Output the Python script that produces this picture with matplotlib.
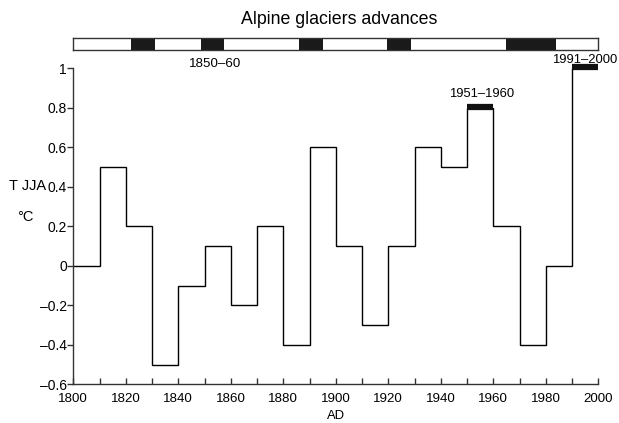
import matplotlib
matplotlib.use("Agg")
import matplotlib.pyplot as plt
import numpy as np

plt.rcParams['font.family'] = ['Liberation Sans', 'DejaVu Sans']

# Decadal summer temperature anomalies
decade_edges = [1800, 1810, 1820, 1830, 1840, 1850, 1860, 1870, 1880, 1890, 1900,
                1910, 1920, 1930, 1940, 1950, 1960, 1970, 1980, 1990, 2000]
temps = [0, 0.5, 0.2, -0.5, -0.1, 0.1, -0.2, 0.2, -0.4, 0.6,
         0.1, -0.3, 0.1, 0.6, 0.5, 0.8, 0.2, -0.4, 0, 1.0]

# Glacier advance periods (start, end)
adv_start = [1822, 1848.5, 1886, 1919.5, 1965]
adv_end = [1831, 1857.5, 1895, 1928.5, 1984]

# Highlighted decades
hl_start = [1950, 1990]
hl_end = [1960, 2000]
hl_val = [0.8, 1.0]
hl_labels = ['1951\u20131960', '1991\u20132000']
hl_label_x = [1955.5, 1994.8]
hl_label_dy = [0.07, 0.042]

yticks = [-0.6, -0.4, -0.2, 0, 0.2, 0.4, 0.6, 0.8, 1]
ytick_labels = ['\u20130.6', '\u20130.4', '\u20130.2', '0', '0.2', '0.4', '0.6', '0.8', '1']
xticks_major = list(range(1800, 2001, 20))
xticks_minor = list(range(1810, 2000, 20))

W, H = 619, 423
fig = plt.figure(figsize=(W / 100, H / 100), dpi=100)

ax_l, ax_r, ax_t, ax_b = 73.3, 598.3, 68.3, 384.3
ax = fig.add_axes([ax_l / W, 1 - ax_b / H, (ax_r - ax_l) / W, (ax_b - ax_t) / H])
ax.set_xlim(1800, 2000)
ax.set_ylim(-0.6, 1)

ax.stairs(temps, decade_edges, baseline=None, color='black', lw=1.0)

for s, e, v in zip(hl_start, hl_end, hl_val):
    ax.plot([s, e], [v + 0.005, v + 0.005], color='#111111', lw=4.5,
            solid_capstyle='butt', clip_on=False, zorder=3)

fs = 9.6
for lab, x, v, dy in zip(hl_labels, hl_label_x, hl_val, hl_label_dy):
    ax.text(x, v + dy, lab, ha='center', va='center', fontsize=9.4, clip_on=False)

ax.text(1854, 1.022, '1850\u201360', ha='center', va='center', fontsize=fs, clip_on=False)

for sp in ['top', 'right']:
    ax.spines[sp].set_visible(False)
for sp in ['left', 'bottom']:
    ax.spines[sp].set_color('#333333')
    ax.spines[sp].set_linewidth(1.0)

ax.set_yticks(yticks)
ax.set_yticklabels(ytick_labels)
ax.set_xticks(xticks_major)
ax.set_xticks(xticks_minor, minor=True)
ax.tick_params(axis='y', direction='out', length=4, width=1, color='#333333',
               labelsize=10, pad=0.5)
ax.tick_params(axis='x', which='both', direction='in', length=4, width=1,
               color='#333333', labelsize=fs, pad=6.5)

fig.text(0.5 * (ax_l + ax_r) / W, 1 - 422 / H, 'AD', ha='center', va='bottom', fontsize=9.4)

fig.text(28 / W, 1 - 186 / H, 'T JJA', ha='center', va='center', fontsize=10.5)
fig.text(25 / W, 1 - 217 / H, '\u00b0C', ha='center', va='center', fontsize=10.5)

# Glacier advances bar
bar_t, bar_b = 37.7, 50.0
bax = fig.add_axes([ax_l / W, 1 - bar_b / H, (ax_r - ax_l) / W, (bar_b - bar_t) / H])
bax.set_xlim(1800, 2000)
bax.set_ylim(0, 1)
bax.barh([0.5], [e - s for s, e in zip(adv_start, adv_end)], left=adv_start,
         height=1, color='#1a1a1a')
bax.set_xticks([])
bax.set_yticks([])
for sp in bax.spines.values():
    sp.set_color('#333333')
    sp.set_linewidth(1.0)

fig.text(0.5 * (ax_l + ax_r) / W + 0.005, 1 - 20 / H, 'Alpine glaciers advances',
         ha='center', va='center', fontsize=12.8)

fig.savefig('out.png', dpi=100)
